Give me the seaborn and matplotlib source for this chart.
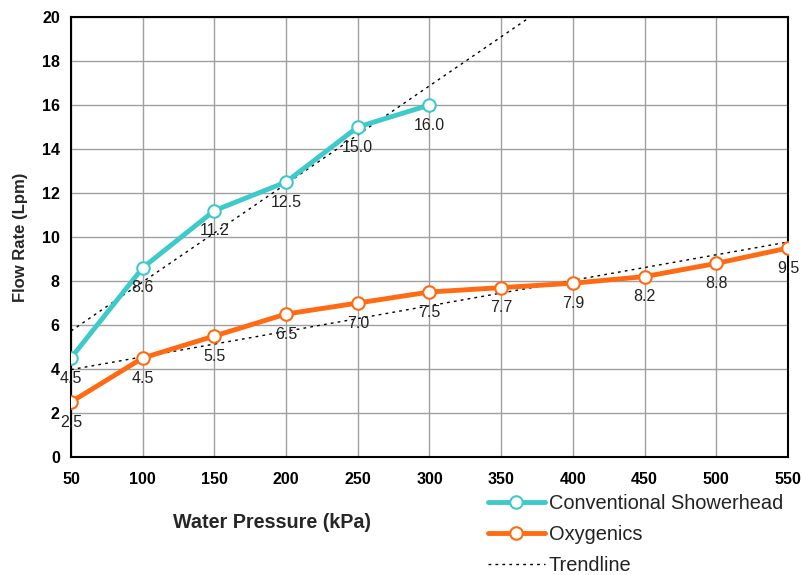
import matplotlib
matplotlib.use('Agg')
import matplotlib.pyplot as plt
import numpy as np
import pandas as pd
import seaborn as sns
from matplotlib.lines import Line2D

# Data
conv_pressure = [50, 100, 150, 200, 250, 300]
conv_flow = [4.5, 8.6, 11.2, 12.5, 15.0, 16.0]
oxy_pressure = [50, 100, 150, 200, 250, 300, 350, 400, 450, 500, 550]
oxy_flow = [2.5, 4.5, 5.5, 6.5, 7.0, 7.5, 7.7, 7.9, 8.2, 8.8, 9.5]

x_ticks = list(range(50, 551, 50))
y_ticks = list(range(0, 21, 2))

cyan = '#3ECACA'
orange = '#FF6A13'

sns.set_style('white')
plt.rcParams['font.family'] = ['Liberation Sans', 'DejaVu Sans']

df_conv = pd.DataFrame({'pressure': conv_pressure, 'flow': conv_flow})
df_oxy = pd.DataFrame({'pressure': oxy_pressure, 'flow': oxy_flow})

fig = plt.figure(figsize=(8.02, 5.75), dpi=100)
ax = fig.add_axes([0.0885, 0.2052, 0.894, 0.7652])

# Linear trendlines fitted to each series
xs = np.array([50, 550])
for d in (df_conv, df_oxy):
    k, b = np.polyfit(d['pressure'], d['flow'], 1)
    ax.plot(xs, k * xs + b, color='black', lw=1, ls=(0, (2, 3)), zorder=2)

sns.lineplot(data=df_conv, x='pressure', y='flow', ax=ax, color=cyan, lw=3.5,
             marker='o', markersize=9, markerfacecolor='white',
             markeredgecolor=cyan, markeredgewidth=1.5, zorder=3)
sns.lineplot(data=df_oxy, x='pressure', y='flow', ax=ax, color=orange, lw=3.5,
             marker='o', markersize=9, markerfacecolor='white',
             markeredgecolor=orange, markeredgewidth=1.5, zorder=3)

# Data labels below each point
for d in (df_conv, df_oxy):
    for px, py in zip(d['pressure'], d['flow']):
        ax.annotate(f'{py:.1f}', (px, py), xytext=(0, -9), textcoords='offset points',
                    ha='center', va='top', fontsize=11.5, color='#222222',
                    annotation_clip=False, zorder=4)

ax.set_xlim(50, 550)
ax.set_ylim(0, 20)
ax.set_xticks(x_ticks)
ax.set_yticks(y_ticks)
ax.grid(True, color='#a0a0a0', lw=1)
ax.tick_params(axis='both', direction='out', length=5, width=1.2, colors='black',
               labelsize=11.5, pad=3)
ax.tick_params(axis='x', pad=6)
for lab in ax.get_xticklabels() + ax.get_yticklabels():
    lab.set_fontweight('bold')
for s in ax.spines.values():
    s.set_color('black')
    s.set_linewidth(1.5)

ax.set_xlabel('Water Pressure (kPa)', fontsize=14.2, fontweight='bold', labelpad=0)
ax.xaxis.set_label_coords(0.280, -0.127)
ax.set_ylabel('Flow Rate (Lpm)', fontsize=12, fontweight='bold')
ax.yaxis.set_label_coords(-0.06, 0.5)

handles = [
    Line2D([], [], color=cyan, lw=3.5, marker='o', markersize=9, markerfacecolor='white',
           markeredgecolor=cyan, markeredgewidth=1.5),
    Line2D([], [], color=orange, lw=3.5, marker='o', markersize=9, markerfacecolor='white',
           markeredgecolor=orange, markeredgewidth=1.5),
    Line2D([], [], color='black', lw=1, ls=(0, (2, 3))),
]
fig.legend(handles, ['Conventional Showerhead', 'Oxygenics', 'Trendline'],
           loc='upper left', bbox_to_anchor=(0.608, 0.141), frameon=False,
           fontsize=14.4, handlelength=2.85, handletextpad=0.2, labelspacing=0.6,
           borderaxespad=0, borderpad=0, labelcolor='#222222')

fig.savefig('out.png', dpi=100)
